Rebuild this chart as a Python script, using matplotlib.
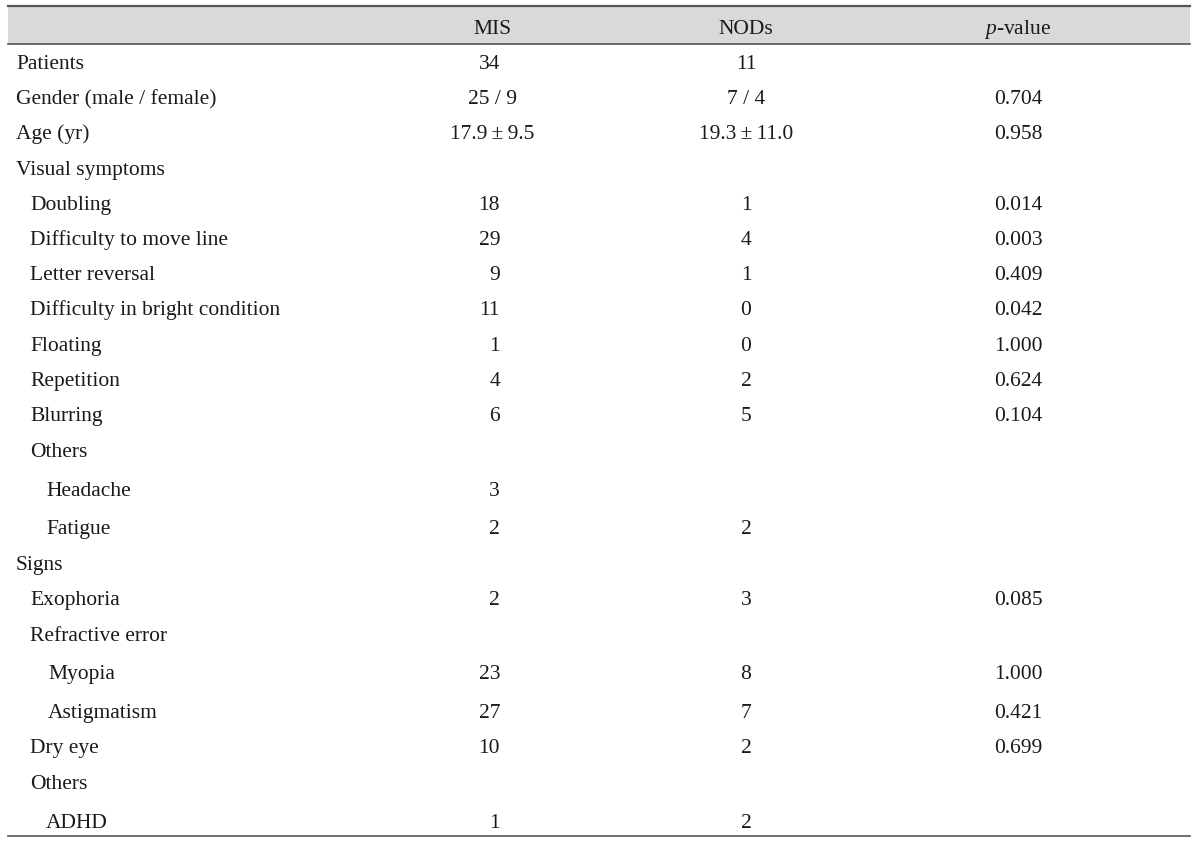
import matplotlib
matplotlib.use("Agg")
import matplotlib.pyplot as plt

# ---------------------------------------Datos de la tabla---------------------------------------
headers = ["MIS", "NODs", "$\\it{p}$-value"]

row_labels = [
    "Patients", "Gender (male / female)", "Age (yr)", "Visual symptoms",
    "Doubling", "Difficulty to move line", "Letter reversal",
    "Difficulty in bright condition", "Floating", "Repetition", "Blurring",
    "Others", "Headache", "Fatigue", "Signs", "Exophoria", "Refractive error",
    "Myopia", "Astigmatism", "Dry eye", "Others", "ADHD",
]
mis = ["34", "25 / 9", "17.9\u2009±\u20099.5", "", "18", "29", "9", "11", "1", "4", "6",
       "", "3", "2", "", "2", "", "23", "27", "10", "", "1"]
nods = ["11", "7 / 4", "19.3\u2009±\u200911.0", "", "1", "4", "1", "0", "0", "2", "5",
        "", "", "2", "", "3", "", "8", "7", "2", "", "2"]
p_values = ["", "0.704", "0.958", "", "0.014", "0.003", "0.409", "0.042",
            "1.000", "0.624", "0.104", "", "", "", "", "0.085", "", "1.000",
            "0.421", "0.699", "", ""]

# ---------------------------------------Layout (pixels)---------------------------------------
row_y = [62, 97, 132, 168, 203, 238, 273, 308, 344, 379, 414, 450, 489, 527,
         563, 598, 634, 672, 711, 746, 782, 821]
indent_x = [16, 16, 16, 16, 30, 30, 30, 30, 30, 30, 30, 30, 46, 46, 16, 30,
            30, 48, 48, 30, 30, 46]
x_left, x_right = 8, 1190
x_mis_center, x_mis_right = 492, 500
x_nods = 746
x_p = 1018
header_top, header_bottom, table_bottom = 6, 44, 836
base_off = 7  # de centro de fila a linea base
txt_color = "#1a1a1a"
fs = 15.5

plt.rcParams["font.family"] = ["Liberation Serif", "DejaVu Serif"]
plt.rcParams["mathtext.fontset"] = "custom"
plt.rcParams["mathtext.it"] = "Liberation Serif:italic"
plt.rcParams["mathtext.rm"] = "Liberation Serif"

fig = plt.figure(figsize=(12, 8.42), dpi=100)
ax = fig.add_axes([0, 0, 1, 1])
ax.set_xlim(0, 1200)
ax.set_ylim(842, 0)
ax.axis("off")

# cabecera gris
ax.fill_between([x_left, x_right], header_top, header_bottom, color="#d9d9d9", lw=0)
ax.plot([x_left, x_right], [header_top, header_top], color="#555555", lw=1.6)
ax.plot([x_left, x_right], [header_bottom, header_bottom], color="#555555", lw=1.2)
ax.plot([x_left, x_right], [table_bottom, table_bottom], color="#555555", lw=1.2)

header_y = 27 + base_off
for h, x in zip(headers, [x_mis_center, x_nods, x_p]):
    ax.text(x, header_y, h, ha="center", va="baseline", fontsize=fs, color=txt_color)

for i, label in enumerate(row_labels):
    y = row_y[i] + base_off
    ax.text(indent_x[i], y, label, ha="left", va="baseline", fontsize=fs, color=txt_color)
    if mis[i]:
        if " " in mis[i] or "\u2009" in mis[i]:
            ax.text(x_mis_center, y, mis[i], ha="center", va="baseline", fontsize=fs, color=txt_color)
        else:
            ax.text(x_mis_right, y, mis[i], ha="right", va="baseline", fontsize=fs, color=txt_color)
    if nods[i]:
        ax.text(x_nods, y, nods[i], ha="center", va="baseline", fontsize=fs, color=txt_color)
    if p_values[i]:
        ax.text(x_p, y, p_values[i], ha="center", va="baseline", fontsize=fs, color=txt_color)

fig.savefig("out.png", dpi=100)
